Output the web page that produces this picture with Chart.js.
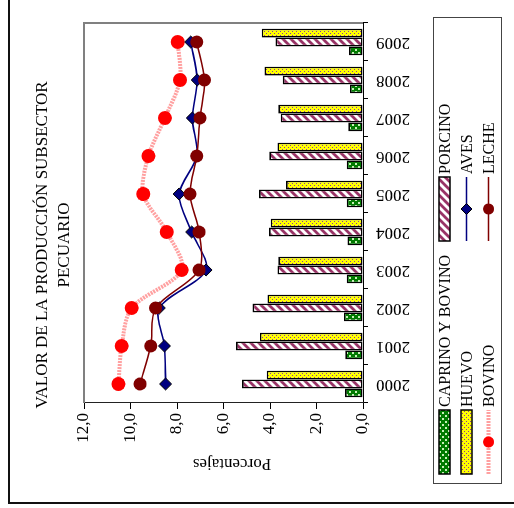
<!DOCTYPE html>
<html>
<head>
<meta charset="utf-8">
<script src="https://cdn.jsdelivr.net/npm/chart.js@4/dist/chart.umd.min.js"></script>
<style>
  html, body { margin: 0; padding: 0; background: #fff; overflow: hidden; }
  #frame { position: absolute; left: 8px; top: -10px; width: 600px; height: 514px; box-sizing: border-box;
           border-left: 2px solid #111; border-bottom: 2px solid #111; }
  /* the chart is drawn upright, then turned a quarter turn to the left like the scan */
  #wrap { position: absolute; left: 0; top: 0; width: 508px; height: 514px;
          transform-origin: 0 0; transform: translate(0px, 508px) rotate(-90deg); }
</style>
</head>
<body>
<div id="frame"></div>
<div id="wrap"><canvas id="chart" width="508" height="514"></canvas></div>
<script>
const years = ['2000', '2001', '2002', '2003', '2004', '2005', '2006', '2007', '2008', '2009'];
const caprinoBovino = [0.77, 0.76, 0.82, 0.70, 0.67, 0.70, 0.70, 0.63, 0.56, 0.60];
const porcino = [5.20, 5.46, 4.75, 3.68, 4.04, 4.47, 4.03, 3.54, 3.45, 3.76];
const huevo = [4.14, 4.43, 4.11, 3.64, 3.97, 3.31, 3.68, 3.64, 4.24, 4.36];
const aves = [8.49, 8.54, 8.76, 6.75, 7.37, 7.91, 7.15, 7.34, 7.13, 7.41];
const bovino = [10.52, 10.38, 9.95, 7.80, 8.44, 9.45, 9.23, 8.52, 7.87, 7.97];
const leche = [9.59, 9.13, 8.92, 7.05, 7.05, 7.44, 7.15, 7.01, 6.82, 7.15];
const titleLines = ['VALOR DE LA PRODUCCIÓN SUBSECTOR', 'PECUARIO'];
const yTitle = 'Porcentajes';
const yMax = 12, yStep = 2;

const serif = "'Liberation Serif', 'Times New Roman', serif";
Chart.defaults.font.family = serif;
Chart.defaults.color = '#000';

const ctx = document.getElementById('chart').getContext('2d');

function makePattern(w, h, draw) {
    const c = document.createElement('canvas');
    c.width = w; c.height = h;
    draw(c.getContext('2d'), w, h);
    return ctx.createPattern(c, 'repeat');
}
const greenFill = makePattern(6, 6, function (g) {
    g.fillStyle = '#007a00'; g.fillRect(0, 0, 6, 6);
    g.fillStyle = '#c8f0b8'; g.fillRect(1, 1, 2, 2); g.fillRect(4, 4, 2, 2);
});
const yellowFill = makePattern(4, 4, function (g) {
    g.fillStyle = '#ffff00'; g.fillRect(0, 0, 4, 4);
    g.fillStyle = '#8a3c9a'; g.fillRect(0, 0, 1, 1); g.fillRect(2, 2, 1, 1);
});
const stripeFill = makePattern(8, 8, function (g) {
    g.fillStyle = '#fff'; g.fillRect(0, 0, 8, 8);
    g.strokeStyle = '#993366'; g.lineWidth = 2.8;
    g.beginPath();
    g.moveTo(-2, 10); g.lineTo(10, -2);
    g.moveTo(-6, 6); g.lineTo(6, -6);
    g.moveTo(2, 14); g.lineTo(14, 2);
    g.stroke();
});

const barStyle = { borderColor: '#000', borderWidth: 1.6, borderSkipped: false,
                   categoryPercentage: 0.7, barPercentage: 1.0, order: 3 };

// legend boxes are laid out two per row, in dataset order
const decor = {
    id: 'decor',
    afterDraw(chart) {
        const c = chart.ctx, a = chart.chartArea;
        c.save();
        c.strokeStyle = '#808080'; c.lineWidth = 2;
        c.beginPath();
        c.moveTo(a.left, a.top); c.lineTo(a.right, a.top); c.lineTo(a.right, a.bottom);
        c.stroke();

        c.fillStyle = '#000';
        c.font = '17px ' + serif;
        c.textAlign = 'center'; c.textBaseline = 'alphabetic';
        c.fillText(titleLines[0], 263, 47);
        c.fillText(titleLines[1], 263, 69);

        // axis title, a little below the middle of the axis as in the scan
        c.save();
        c.translate(45, 232);
        c.rotate(-Math.PI / 2);
        c.textBaseline = 'middle';
        c.fillText(yTitle, 0, 0);
        c.restore();

        c.strokeStyle = '#444'; c.lineWidth = 1;
        c.strokeRect(24.5, 433.5, 466, 68);

        const colX = [34, 267], rowY = [444.5, 466.5, 488.5], swLen = 64;
        c.font = '16px ' + serif;
        c.textAlign = 'left';
        chart.data.datasets.forEach(function (ds, i) {
            const x = colX[i % 2], y = rowY[Math.floor(i / 2)];
            if (ds.type === 'line') {
                c.save();
                c.strokeStyle = ds.borderColor; c.lineWidth = ds.borderWidth;
                c.setLineDash(ds.borderDash || []);
                c.beginPath(); c.moveTo(x, y); c.lineTo(x + swLen, y); c.stroke();
                c.restore();
                c.fillStyle = ds.pointBackgroundColor;
                c.strokeStyle = ds.pointBorderColor;
                c.lineWidth = ds.pointBorderWidth;
                Chart.helpers.drawPoint(c, { pointStyle: ds.pointStyle, radius: 5.5, borderWidth: ds.pointBorderWidth, rotation: 0 },
                                        x + swLen / 2, y);
            } else {
                c.fillStyle = ds.backgroundColor;
                c.fillRect(x, y - 5.5, swLen, 11);
                c.strokeStyle = '#000'; c.lineWidth = 1.5;
                c.strokeRect(x, y - 5.5, swLen, 11);
            }
            c.fillStyle = '#000';
            c.fillText(ds.label, x + swLen + 3, y + 5.5);
        });
        c.restore();
    }
};

new Chart(ctx, {
    type: 'bar',
    data: {
        labels: years,
        datasets: [
            Object.assign({ label: 'CAPRINO Y BOVINO', data: caprinoBovino, backgroundColor: greenFill }, barStyle),
            Object.assign({ label: 'PORCINO', data: porcino, backgroundColor: stripeFill }, barStyle),
            Object.assign({ label: 'HUEVO', data: huevo, backgroundColor: yellowFill }, barStyle),
            {
                type: 'line', label: 'AVES', data: aves, order: 1,
                borderColor: '#000080', borderWidth: 1.6, tension: 0.3,
                pointStyle: 'rectRot', pointRadius: 6, pointBackgroundColor: '#000080',
                pointBorderColor: '#000', pointBorderWidth: 1
            },
            {
                type: 'line', label: 'BOVINO', data: bovino, order: 2,
                borderColor: '#ffa0a0', borderWidth: 4, borderDash: [2, 1], tension: 0.3,
                pointStyle: 'circle', pointRadius: 7, pointBackgroundColor: '#ff0000',
                pointBorderColor: '#ff0000', pointBorderWidth: 0
            },
            {
                type: 'line', label: 'LECHE', data: leche, order: 0,
                borderColor: '#800000', borderWidth: 1.6, tension: 0.3,
                pointStyle: 'circle', pointRadius: 6.5, pointBackgroundColor: '#800000',
                pointBorderColor: '#800000', pointBorderWidth: 0
            }
        ]
    },
    options: {
        responsive: false,
        animation: false,
        layout: { padding: { left: 0, right: 23, top: 84, bottom: 91 } },
        plugins: { legend: { display: false }, title: { display: false }, tooltip: { enabled: false } },
        scales: {
            x: {
                offset: true,
                grid: { offset: true, drawOnChartArea: false, color: '#000', tickLength: 5 },
                border: { color: '#000', width: 1 },
                ticks: { minRotation: 90, maxRotation: 90, autoSkip: false, padding: 8, font: { size: 17 }, color: '#000' },
                afterFit(scale) { scale.height = 60; }
            },
            y: {
                min: 0, max: yMax,
                grid: { drawOnChartArea: false, color: '#000', tickLength: 6 },
                border: { color: '#222', width: 1 },
                ticks: {
                    stepSize: yStep, padding: 4, font: { size: 17 }, color: '#000',
                    callback: function (v) { return v.toFixed(1).replace('.', ','); }
                },
                afterFit(scale) { scale.width = 105; }
            }
        }
    },
    plugins: [decor]
});
</script>
</body>
</html>
